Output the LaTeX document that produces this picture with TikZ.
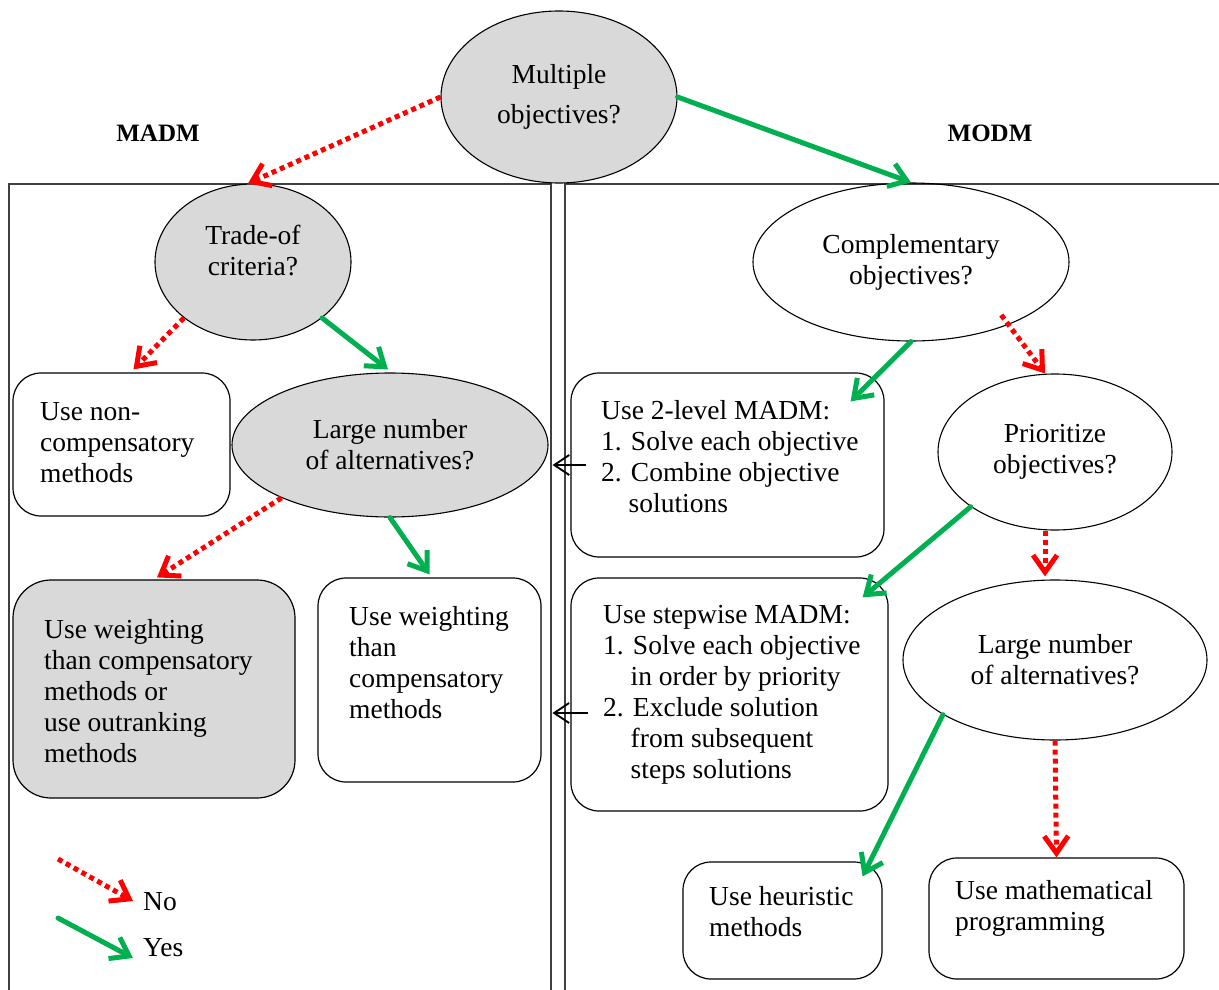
\documentclass[tikz,border=0pt]{standalone}
\usepackage{fontspec}
\setmainfont{Liberation Serif}
\usetikzlibrary{shapes.geometric,arrows.meta,calc}
\definecolor{fillgray}{HTML}{D9D9D9}
\definecolor{yesgreen}{HTML}{00B050}
\definecolor{nored}{HTML}{FF0000}
\definecolor{framegray}{HTML}{404040}
\tikzset{
  every node/.style={font=\fontsize{27.5}{31}\selectfont},
  frame/.style={draw=framegray, line width=1.2pt},
  question/.style={ellipse, draw, line width=1.1pt, inner sep=0pt, align=center},
  grayq/.style={question, fill=fillgray},
  answer/.style={draw, rounded corners=28pt, line width=1.2pt, inner sep=0pt},
  grayanswer/.style={answer, fill=fillgray, rounded corners=38pt},
  boxtext/.style={align=left, inner sep=0pt, anchor=west},
  heading/.style={font=\fontsize{25}{30}\selectfont\bfseries, inner sep=0pt},
  yesarrow/.style={draw=yesgreen, line width=5pt, line cap=round,
    -{Straight Barb[length=17pt,width=24pt]}},
  noarrow/.style={draw=nored, line width=5pt, dash pattern=on 5pt off 4pt,
    -{Straight Barb[length=17pt,width=24pt]}},
  backarrow/.style={draw=black, line width=1.9pt,
    -{Straight Barb[length=15pt,width=20pt]}},
}
\begin{document}
\begin{tikzpicture}[x=1pt,y=-1pt]
\useasboundingbox (0,0) rectangle (1219,990);
\fill[white] (0,0) rectangle (1219,990);

% the two panels
\draw[frame] (9,990) -- (9,184) -- (551,184) -- (551,990);
\draw[frame] (565,990) -- (565,184) -- (1219,184);

% headings
\node[heading] (madm) at (158,133) {MADM};
\node[heading] (modm) at (990,133) {MODM};

% top question
\node[grayq, minimum width=236pt, minimum height=172pt] (multi) at (559,97)
  {Multiple\\[9pt]objectives?};

% MADM side
\node[grayq, minimum width=196pt, minimum height=156pt] (trade) at (253,262) {};
\node[align=center, inner sep=0pt] (tradeT) at (253,250.5) {Trade-of\\criteria?};
\node[answer, minimum width=217pt, minimum height=143pt] (nonc) at (121.5,444.5) {};
\node[boxtext] (noncT) at (40,442.7) {Use non-\\compensatory\\methods};
\node[grayq, minimum width=316pt, minimum height=144pt] (largeL) at (390,445)
  {Large number\\of alternatives?};
\node[grayanswer, minimum width=282pt, minimum height=218pt] (wor) at (154,689) {};
\node[boxtext] (worT) at (44,691)
  {Use weighting\\than compensatory\\methods or\\use outranking\\methods};
\node[answer, minimum width=223pt, minimum height=204pt] (wgt) at (429.5,680) {};
\node[boxtext] (wgtT) at (349,662.5) {Use weighting\\than\\compensatory\\methods};

% MODM side
\node[question, minimum width=316pt, minimum height=158pt] (comp) at (911,262)
  {Complementary\\objectives?};
\node[answer, minimum width=313pt, minimum height=184pt] (twolevel) at (727.5,465) {};
\node[boxtext] (twolevelT) at (601,457)
  {Use 2-level MADM:\\1. Solve each objective\\2. Combine objective\\\phantom{2.}\ solutions};
\node[question, minimum width=234pt, minimum height=156pt] (prio) at (1055,452)
  {Prioritize\\objectives?};
\node[answer, minimum width=317pt, minimum height=233pt] (stepw) at (729.5,694.5) {};
\node[boxtext] (stepwT) at (603,695)
  {Use stepwise MADM:\\1. Solve each objective\\\phantom{1.}\ in order by priority\\2. Exclude solution\\\phantom{2.}\ from subsequent\\\phantom{2.}\ steps solutions};
\node[question, minimum width=304pt, minimum height=160pt] (largeR) at (1055,660)
  {Large number\\of alternatives?};
\node[answer, minimum width=199pt, minimum height=117pt] (heur) at (782.5,920.5) {};
\node[boxtext] (heurT) at (709,911.5) {Use heuristic\\methods};
\node[answer, minimum width=255pt, minimum height=121pt] (math) at (1056.5,918.5) {};
\node[boxtext] (mathT) at (955,908.5) {Use mathematical\\programming};

% decisions
\draw[noarrow] (multi.west) -- ([xshift=-5pt]trade.north);
\draw[yesarrow] (multi.east) -- (comp.north);
\draw[noarrow] (trade.219) -- ([xshift=12pt,yshift=3pt]nonc.north);
\draw[yesarrow] (trade.321) -- ([xshift=-2pt,yshift=3pt]largeL.north);
\draw[noarrow] (largeL.206) -- ([xshift=3pt,yshift=2pt]wor.north);
\draw[yesarrow] (largeL.south) -- ([yshift=3pt]wgt.north);
\draw[yesarrow] (comp.south) -- ([xshift=-34pt,yshift=-29pt]twolevel.north east);
\draw[noarrow] ([shift={(-9pt,9pt)}]comp.328) -- ([xshift=-10pt]prio.north);
\draw[yesarrow] (prio.213) -- ([xshift=-26pt,yshift=-20pt]stepw.north east);
\draw[noarrow] ([xshift=-10pt]prio.south) -- ([xshift=-10pt,yshift=3pt]largeR.north);
\draw[yesarrow] (largeR.206.6) -- ([xshift=-20pt,yshift=-15pt]heur.north east);
\draw[noarrow] (largeR.south) -- (math.north);

% hand-over to the MADM panel
\draw[backarrow] ([xshift=16pt]twolevel.west) -- ([xshift=4pt]twolevel.west -| largeL.east);
\draw[backarrow] ([xshift=18pt,yshift=-18.5pt]stepw.west) -- ([xshift=-18pt,yshift=-18.5pt]stepw.west);

% legend
\coordinate (noFrom) at (58,859);
\coordinate (noTo) at (133,901);
\coordinate (yesFrom) at (58,918);
\coordinate (yesTo) at (133,958);
\draw[noarrow] (noFrom) -- (noTo);
\draw[yesarrow] (yesFrom) -- (yesTo);
\node[anchor=west, inner sep=0pt] (noT) at (143,902) {No};
\node[anchor=west, inner sep=0pt] (yesT) at (143,948) {Yes};
\end{tikzpicture}
\end{document}
